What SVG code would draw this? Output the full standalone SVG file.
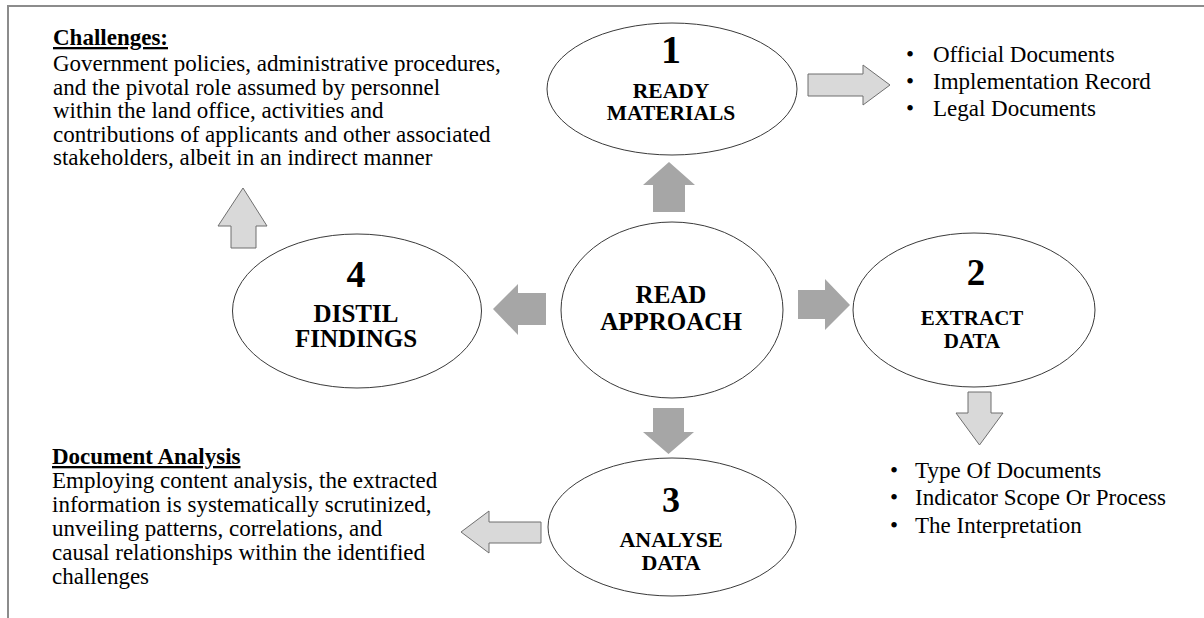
<svg xmlns="http://www.w3.org/2000/svg" width="1204" height="618" viewBox="0 0 1204 618">
  <style>
    .frame { fill: none; stroke: #8c8c8c; stroke-width: 2; }
    .node { fill: #ffffff; stroke: #3a3a3a; stroke-width: 1; }
    .num { font-family: 'Liberation Serif', 'Times New Roman', serif; font-weight: bold; text-anchor: middle; fill: #000; }
    .lbl { font-family: 'Liberation Serif', 'Times New Roman', serif; font-weight: bold; text-anchor: middle; fill: #000; }
    .body { font-family: 'Liberation Serif', 'Times New Roman', serif; font-size: 23px; fill: #000; }
    .head { font-weight: bold; text-decoration: underline; }
    .flow { fill: #a6a6a6; stroke: none; }
    .out { fill: #d9d9d9; stroke: #6f6f6f; stroke-width: 1; }
  </style>

  <rect width="1204" height="618" fill="#ffffff"/>
  <rect class="frame" x="8" y="6" width="1210" height="630"/>

  <!-- connectors -->
  <g id="connectors">
    <path class="flow" d="M653,212 L653,185 L643,185 L669,162 L695,185 L685,185 L685,212 Z"/>
    <path class="flow" d="M798,290 L825,290 L825,279 L850,305 L825,330 L825,319 L798,319 Z"/>
    <path class="flow" d="M546,293 L518,293 L518,284 L493,309 L518,335 L518,325 L546,325 Z"/>
    <path class="flow" d="M653,408 L684,408 L684,432 L694,432 L668.5,454 L643,432 L653,432 Z"/>
    <path class="out" d="M808,74 L863,74 L863,65 L890,85 L863,105 L863,96 L808,96 Z"/>
    <path class="out" d="M231,248 L231,226 L218,226 L243,188 L267,226 L256,226 L256,248 Z"/>
    <path class="out" d="M968,392 L991,392 L991,413 L1003,413 L979.5,445 L956,413 L968,413 Z"/>
    <path class="out" d="M541,522 L489,522 L489,511 L461,532 L489,553 L489,543 L541,543 Z"/>
  </g>

  <!-- central approach -->
  <g id="read-approach">
    <ellipse class="node" cx="672" cy="310" rx="111" ry="88"/>
    <text class="lbl" x="671" y="303" font-size="25">READ</text>
    <text class="lbl" x="671" y="330" font-size="25">APPROACH</text>
  </g>

  <g id="step1-ready-materials">
    <ellipse class="node" cx="672" cy="89" rx="125" ry="66"/>
    <text class="num" x="671" y="63" font-size="40">1</text>
    <text class="lbl" x="671" y="98" font-size="21.5">READY</text>
    <text class="lbl" x="671" y="120" font-size="21.5">MATERIALS</text>
  </g>

  <g id="step2-extract-data">
    <ellipse class="node" cx="974" cy="310" rx="121" ry="77"/>
    <text class="num" x="976" y="285" font-size="37">2</text>
    <text class="lbl" x="972" y="325" font-size="21">EXTRACT</text>
    <text class="lbl" x="972" y="348" font-size="21">DATA</text>
  </g>

  <g id="step3-analyse-data">
    <ellipse class="node" cx="672" cy="527" rx="124" ry="69"/>
    <text class="num" x="671" y="512" font-size="36">3</text>
    <text class="lbl" x="671" y="547" font-size="22">ANALYSE</text>
    <text class="lbl" x="671" y="570" font-size="22">DATA</text>
  </g>

  <g id="step4-distil-findings">
    <ellipse class="node" cx="357" cy="311" rx="124.5" ry="77"/>
    <text class="num" x="356" y="287" font-size="38">4</text>
    <text class="lbl" x="356" y="322" font-size="25">DISTIL</text>
    <text class="lbl" x="356" y="347" font-size="25">FINDINGS</text>
  </g>

  <!-- materials list -->
  <g id="materials-list" class="body">
    <text x="906" y="62">•</text><text x="933" y="62">Official Documents</text>
    <text x="906" y="89">•</text><text x="933" y="89">Implementation Record</text>
    <text x="906" y="116">•</text><text x="933" y="116">Legal Documents</text>
  </g>

  <!-- extraction list -->
  <g id="extraction-list" class="body">
    <text x="890" y="478">•</text><text x="915" y="478">Type Of Documents</text>
    <text x="890" y="505">•</text><text x="915" y="505">Indicator Scope Or Process</text>
    <text x="890" y="533">•</text><text x="915" y="533">The Interpretation</text>
  </g>

  <!-- challenges note -->
  <g id="challenges-note" class="body">
    <text class="head" x="53" y="45">Challenges:</text>
    <text x="53" y="71">Government policies, administrative procedures,</text>
    <text x="53" y="94.5">and the pivotal role assumed by personnel</text>
    <text x="53" y="118">within the land office, activities and</text>
    <text x="53" y="141.5">contributions of applicants and other associated</text>
    <text x="53" y="165">stakeholders, albeit in an indirect manner</text>
  </g>

  <!-- document analysis note -->
  <g id="document-analysis-note" class="body">
    <text class="head" x="52" y="464">Document Analysis</text>
    <text x="52" y="488">Employing content analysis, the extracted</text>
    <text x="52" y="512">information is systematically scrutinized,</text>
    <text x="52" y="536">unveiling patterns, correlations, and</text>
    <text x="52" y="560">causal relationships within the identified</text>
    <text x="52" y="584">challenges</text>
  </g>
</svg>
